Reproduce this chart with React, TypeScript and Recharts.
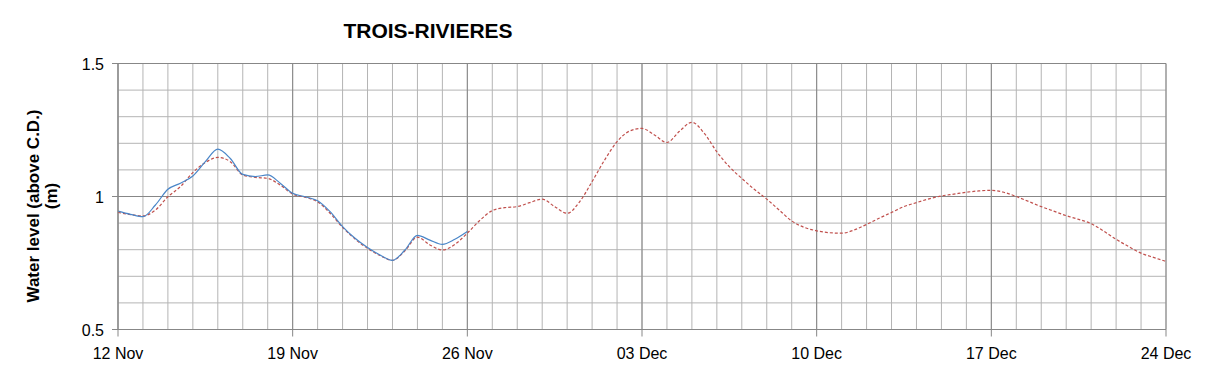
import React from "react";
import { LineChart, Line, XAxis, YAxis, CartesianGrid } from "recharts";

const dayIndex: number[] = [
  0, 0.5, 1, 1.5, 2, 2.5, 3, 3.5, 4, 4.5, 5, 5.5, 6, 6.5, 7, 7.5, 8, 8.5, 9, 9.5,
  10, 10.5, 11, 11.5, 12, 12.5, 13, 13.5, 14, 14.5, 15, 15.5, 16, 16.5, 17, 17.5,
  18, 18.5, 19, 19.5, 20, 20.5, 21, 21.5, 22, 22.5, 23, 23.5, 24, 24.5, 25, 25.5,
  26, 26.5, 27, 27.5, 28, 28.5, 29, 29.5, 30, 30.5, 31, 31.5, 32, 32.5, 33, 33.5,
  34, 34.5, 35, 35.5, 36, 36.5, 37, 37.5, 38, 38.5, 39, 39.5, 40, 40.5, 41, 41.5, 42,
];

const forecast: number[] = [
  0.94, 0.932, 0.927, 0.949, 0.999, 1.037, 1.09, 1.128, 1.147, 1.131, 1.081, 1.072,
  1.068, 1.043, 1.009, 0.997, 0.98, 0.937, 0.884, 0.84, 0.805, 0.778, 0.76, 0.796,
  0.847, 0.818, 0.799, 0.82, 0.862, 0.91, 0.947, 0.958, 0.962, 0.977, 0.99, 0.962,
  0.937, 0.98, 1.056, 1.137, 1.206, 1.246, 1.256, 1.231, 1.203, 1.245, 1.279, 1.237,
  1.168, 1.112, 1.068, 1.027, 0.99, 0.949, 0.908, 0.884, 0.871, 0.864, 0.862, 0.874,
  0.895, 0.918, 0.94, 0.962, 0.977, 0.991, 1.002, 1.009, 1.016, 1.021, 1.023, 1.016,
  1.0, 0.981, 0.962, 0.945, 0.928, 0.914, 0.898, 0.87, 0.839, 0.812, 0.787, 0.771, 0.756,
];

const observed: number[] = [
  0.945, 0.933, 0.924, 0.968, 1.027, 1.05, 1.077, 1.131, 1.178, 1.143, 1.083, 1.075,
  1.081, 1.05, 1.012, 0.999, 0.984, 0.943, 0.887, 0.843, 0.808, 0.78, 0.76, 0.799,
  0.854, 0.836, 0.82, 0.839, 0.868,
];

const majorDays: number[] = [0, 7, 14, 21, 28, 35, 42];
const dateLabels: string[] = ["12 Nov", "19 Nov", "26 Nov", "03 Dec", "10 Dec", "17 Dec", "24 Dec"];
const minorDays: number[] = [
  0, 1, 2, 3, 4, 5, 6, 7, 8, 9, 10, 11, 12, 13, 14, 15, 16, 17, 18, 19, 20, 21,
  22, 23, 24, 25, 26, 27, 28, 29, 30, 31, 32, 33, 34, 35, 36, 37, 38, 39, 40, 41, 42,
];
const levelTicks: number[] = [0.5, 1, 1.5];
const minorLevels: number[] = [0.5, 0.6, 0.7, 0.8, 0.9, 1, 1.1, 1.2, 1.3, 1.4, 1.5];

const rows = dayIndex.map((d, i) => ({
  day: d,
  forecast: forecast[i],
  observed: i < observed.length ? observed[i] : null,
}));

const FONT = "'Liberation Sans', Arial, sans-serif";
const X0 = 0;
const X1 = 42;
const Y0 = 0.5;
const Y1 = 1.5;

function mapX(props: any, d: number): number {
  const ax = props && props.xAxis;
  if (ax && typeof ax.scale === "function") return ax.scale(d);
  const o = props.offset;
  return o.left + ((d - X0) / (X1 - X0)) * o.width;
}
function mapY(props: any, v: number): number {
  const ax = props && props.yAxis;
  if (ax && typeof ax.scale === "function") return ax.scale(v);
  const o = props.offset;
  return o.top + ((Y1 - v) / (Y1 - Y0)) * o.height;
}

const XTick = (props: any) => {
  const { x, y, payload } = props;
  const idx = majorDays.indexOf(payload.value);
  return (
    <text x={x} y={y + 20} textAnchor="middle" fontFamily={FONT} fontSize={16} fill="#000">
      {idx >= 0 ? dateLabels[idx] : ""}
    </text>
  );
};

const YTick = (props: any) => {
  const { x, y, payload } = props;
  return (
    <text x={x - 6} y={y + 6} textAnchor="end" fontFamily={FONT} fontSize={16} fill="#000">
      {String(payload.value)}
    </text>
  );
};

export default function App() {
  return (
    <div style={{ position: "absolute", left: 0, top: 0, width: 1209, height: 378, background: "#fff" }}>
      <LineChart
        width={1209}
        height={378}
        data={rows}
        margin={{ top: 63.5, right: 43, bottom: 18.5, left: 68 }}
      >
        <CartesianGrid
          stroke="#b4b4b4"
          strokeWidth={1}
          verticalCoordinatesGenerator={(p: any) => minorDays.map((d) => mapX(p, d))}
          horizontalCoordinatesGenerator={(p: any) => minorLevels.map((v) => mapY(p, v))}
        />
        <CartesianGrid
          stroke="#878787"
          strokeWidth={1}
          verticalCoordinatesGenerator={(p: any) => majorDays.map((d) => mapX(p, d))}
          horizontalCoordinatesGenerator={(p: any) => levelTicks.map((v) => mapY(p, v))}
        />
        <XAxis
          dataKey="day"
          type="number"
          domain={[X0, X1]}
          ticks={majorDays}
          interval={0}
          height={30}
          axisLine={{ stroke: "#878787" }}
          tickLine={{ stroke: "#878787" }}
          tickSize={7}
          tick={<XTick />}
        />
        <YAxis
          type="number"
          domain={[Y0, Y1]}
          ticks={levelTicks}
          width={50}
          axisLine={{ stroke: "#878787" }}
          tickLine={{ stroke: "#878787" }}
          tickSize={6}
          tick={<YTick />}
        />
        <Line
          dataKey="forecast"
          type="monotone"
          stroke="#c0504d"
          strokeWidth={1.2}
          strokeDasharray="3 2"
          dot={false}
          activeDot={false}
          isAnimationActive={false}
        />
        <Line
          dataKey="observed"
          type="monotone"
          stroke="#4a86c8"
          strokeWidth={1.2}
          dot={false}
          activeDot={false}
          connectNulls={false}
          isAnimationActive={false}
        />
        <text x={428} y={38} textAnchor="middle" fontFamily={FONT} fontSize={21} fontWeight="bold" fill="#000">
          TROIS-RIVIERES
        </text>
        <text
          x={0}
          y={0}
          transform="translate(39,206) rotate(-90)"
          textAnchor="middle"
          fontFamily={FONT}
          fontSize={17}
          fontWeight="bold"
          fill="#000"
        >
          Water level (above C.D.)
        </text>
        <text
          x={0}
          y={0}
          transform="translate(57,196) rotate(-90)"
          textAnchor="middle"
          fontFamily={FONT}
          fontSize={17}
          fontWeight="bold"
          fill="#000"
        >
          (m)
        </text>
      </LineChart>
    </div>
  );
}
